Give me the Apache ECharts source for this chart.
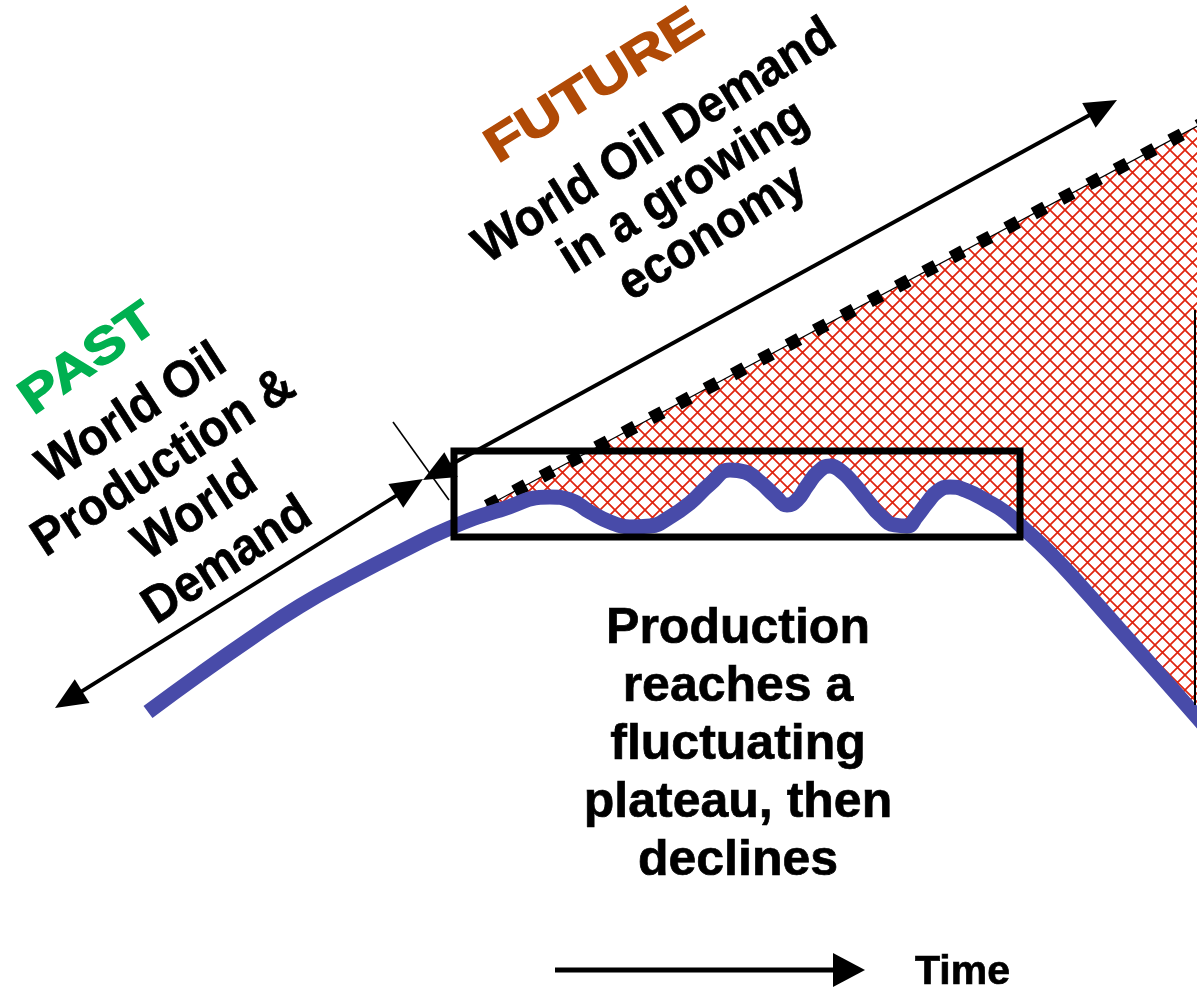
<!DOCTYPE html>
<html><head><meta charset="utf-8">
<script src="https://cdn.jsdelivr.net/npm/echarts@6/dist/echarts.min.js"></script>
<style>html,body{margin:0;padding:0;background:#fff;}#c{width:1197px;height:990px;}</style>
</head><body><div id="c"></div>
<script>
// ---- DATA (x: time units, y: level units) ----
const prodTime  = [14.8, 20.0, 25.0, 30.0, 35.0, 40.0, 45.0, 50.0, 55.0, 57.0, 59.0, 61.0, 63.0, 65.0, 67.0, 69.0, 71.0, 73.0, 74.5, 76.0, 77.5, 78.7, 79.7, 80.7, 81.8, 83.0, 84.2, 85.3, 86.7, 88.0, 89.5, 90.7, 91.7, 92.7, 93.8, 95.0, 96.5, 98.7, 100.5, 102.0, 105.0, 108.0, 112.0, 116.0, 119.7, 122.5];
const prodLevel = [27.8, 31.6, 35.1, 38.4, 41.2, 43.8, 46.2, 48.0, 49.3, 49.0, 47.8, 46.8, 46.3, 46.4, 47.3, 48.7, 50.6, 52.0, 51.8, 50.8, 49.4, 48.5, 49.0, 50.4, 51.8, 52.4, 51.8, 50.7, 49.0, 47.5, 46.5, 46.4, 47.4, 48.7, 49.9, 50.3, 50.0, 48.9, 47.8, 46.5, 43.7, 40.5, 36.0, 31.5, 27.3, 24.1];
const demandTime  = [48.7, 122.0];
const demandLevel = [48.4, 87.6];
const plateauTime  = [45.4, 102.0];
const plateauLevel = [45.3, 53.9];

const FONT = '"Liberation Sans", Arial, Helvetica, sans-serif';

function makeHatch() {
  const P = 15;
  const c = document.createElement('canvas');
  c.width = P; c.height = P;
  const g = c.getContext('2d');
  g.strokeStyle = '#E0240F';
  g.lineWidth = 1.7;
  g.beginPath();
  for (const o of [-P, 0, P]) {
    g.moveTo(-P, -P + o); g.lineTo(2 * P, 2 * P + o);
    g.moveTo(2 * P, -P + o); g.lineTo(-P, 2 * P + o);
  }
  g.stroke();
  return c;
}
const hatch = makeHatch();

function arrow(x1, y1, x2, y2, opts) {
  const lw = opts.lw, L = opts.len, W = opts.w;
  const dx = x2 - x1, dy = y2 - y1, d = Math.hypot(dx, dy);
  const ux = dx / d, uy = dy / d, nx = -uy, ny = ux;
  const els = [];
  let sx = x1, sy = y1, ex = x2, ey = y2;
  function head(tx, ty, dirx, diry) {
    const bx = tx - dirx * L, by = ty - diry * L;
    els.push({type: 'polygon', z: 100, shape: {points: [[tx, ty], [bx + nx * W / 2, by + ny * W / 2], [bx - nx * W / 2, by - ny * W / 2]]}, style: {fill: '#000'}});
  }
  if (opts.end) { head(x2, y2, ux, uy); ex = x2 - ux * (L - 2); ey = y2 - uy * (L - 2); }
  if (opts.start) { head(x1, y1, -ux, -uy); sx = x1 + ux * (L - 2); sy = y1 + uy * (L - 2); }
  els.push({type: 'line', z: 99, shape: {x1: sx, y1: sy, x2: ex, y2: ey}, style: {stroke: '#000', lineWidth: lw}});
  return els;
}

function txt(x, y, rotDeg, text, size, color, lh, extra, sw) {
  return Object.assign({
    type: 'text', z: 100, x: x, y: y, rotation: rotDeg * Math.PI / 180,
    style: {text: text, font: 'bold ' + size + 'px ' + FONT, fill: color, stroke: color, lineWidth: sw,
            textAlign: 'center', textVerticalAlign: 'middle', lineHeight: lh}
  }, extra || {});
}

const chart = echarts.init(document.getElementById('c'), null, {renderer: 'canvas'});

const graphics = [].concat(
  arrow(55, 708, 423, 479, {lw: 4, len: 32, w: 28, start: true, end: true}),
  arrow(423, 480, 1117, 100, {lw: 4, len: 32, w: 28, start: true, end: true}),
  arrow(555, 970, 865, 970, {lw: 5, len: 32, w: 34, end: true}),
  [
    {type: 'line', z: 98, shape: {x1: 393, y1: 422, x2: 449, y2: 500}, style: {stroke: '#000', lineWidth: 1.6}},
    {type: 'line', z: 98, shape: {x1: 1195, y1: 310, x2: 1195, y2: 705}, style: {stroke: '#000', lineWidth: 2}},
    txt(89, 360, 35, 'PAST', 46, '#00B050', 50, {scaleX: 1.3, scaleY: 1.08}, 1.4),
    txt(180, 488, 33, 'World Oil\nProduction &\nWorld\nDemand', 48, '#000', 54, {scaleY: 1.08}, 0.7),
    txt(595, 87, 32, 'FUTURE', 46, '#B04A06', 50, {scaleX: 1.32, scaleY: 1.08}, 1.4),
    txt(684, 188, 32, 'World Oil Demand\nin a growing\neconomy', 48, '#000', 50, {scaleY: 1.08}, 0.7),
    txt(738, 745, 0, 'Production\nreaches a\nfluctuating\nplateau, then\ndeclines', 50, '#000', 58, null, 0.7),
    {type: 'text', z: 100, x: 915, y: 973, style: {text: 'Time', font: 'bold 41px ' + FONT, fill: '#000', stroke: '#000', lineWidth: 0.7, textAlign: 'left', textVerticalAlign: 'middle'}}
  ]
);

chart.setOption({
  animation: false,
  backgroundColor: '#fff',
  grid: {left: 0, right: 0, top: 0, bottom: 0, containLabel: false},
  xAxis: {type: 'value', min: 0, max: 119.7, show: false},
  yAxis: {type: 'value', min: 0, max: 99, show: false},
  series: [
    {
      type: 'custom', name: 'Shortfall', silent: true, z: 2, clip: true,
      data: [0],
      renderItem: function (params, api) {
        const pts = [];
        pts.push(api.coord([demandTime[0], demandLevel[0]]));
        pts.push(api.coord([demandTime[1], demandLevel[1]]));
        for (let i = prodTime.length - 1; i >= 0; i--) {
          if (prodTime[i] >= demandTime[0]) pts.push(api.coord([prodTime[i], prodLevel[i]]));
        }
        return {type: 'polygon', shape: {points: pts}, style: {fill: {image: hatch, repeat: 'repeat'}, stroke: '#000', lineWidth: 1.3}};
      }
    },
    {
      type: 'line', name: 'Demand', z: 3, symbol: 'none', silent: true,
      data: demandTime.map((t, i) => [t, demandLevel[i]]),
      lineStyle: {color: '#000', width: 13, type: [13, 18], cap: 'butt'}
    },
    {
      type: 'line', name: 'Production', z: 4, symbol: 'none', silent: true, smooth: 0.5,
      data: prodTime.map((t, i) => [t, prodLevel[i]]),
      lineStyle: {color: '#484BA9', width: 15, cap: 'butt'}
    },
    {
      type: 'custom', name: 'Plateau', z: 5, silent: true,
      data: [0],
      renderItem: function (params, api) {
        const a = api.coord([plateauTime[0], plateauLevel[1]]);
        const b = api.coord([plateauTime[1], plateauLevel[0]]);
        return {type: 'rect', shape: {x: a[0], y: a[1], width: b[0] - a[0], height: b[1] - a[1]}, style: {fill: 'none', stroke: '#000', lineWidth: 7}};
      }
    }
  ],
  graphic: graphics
});
</script></body></html>
